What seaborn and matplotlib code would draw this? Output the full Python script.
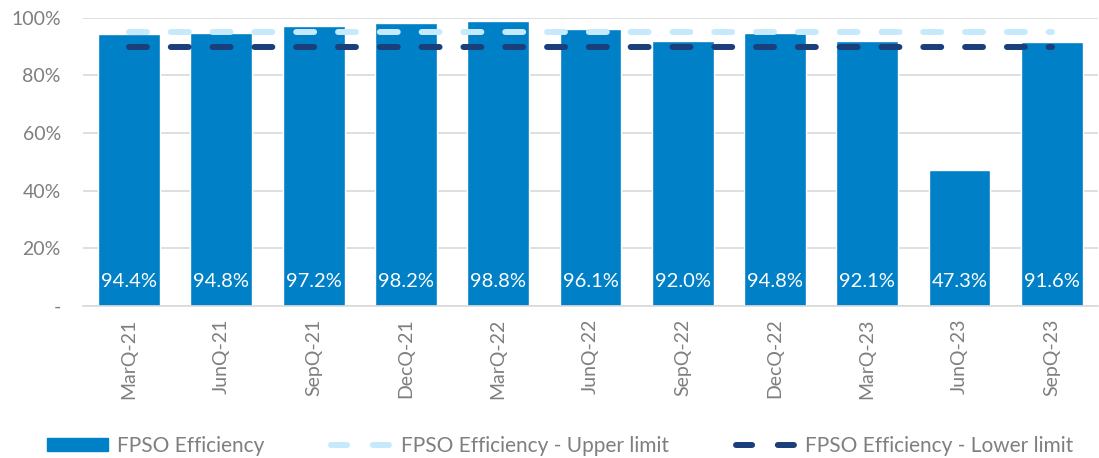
import numpy as np
import pandas as pd
import matplotlib
matplotlib.use("Agg")
import matplotlib.pyplot as plt
import seaborn as sns
from matplotlib.patches import Patch
from matplotlib.lines import Line2D

quarters = ["MarQ-21", "JunQ-21", "SepQ-21", "DecQ-21", "MarQ-22", "JunQ-22",
            "SepQ-22", "DecQ-22", "MarQ-23", "JunQ-23", "SepQ-23"]
efficiency = [94.4, 94.8, 97.2, 98.2, 98.8, 96.1, 92.0, 94.8, 92.1, 47.3, 91.6]
upper_limit = [95.0] * len(quarters)
lower_limit = [90.0] * len(quarters)
y_ticks = [0, 20, 40, 60, 80, 100]
y_tick_labels = ["-", "20%", "40%", "60%", "80%", "100%"]

BAR = "#0080C6"
UPPER = "#C6E9FC"
LOWER = "#1B3F7A"
GREY = "#7F7F7F"
GRID = "#D9D9D9"

sns.set_theme(style="white")
plt.rcParams["font.family"] = ["Lato", "DejaVu Sans"]

df = pd.DataFrame({"quarter": quarters, "eff": efficiency})

fig = plt.figure(figsize=(10.99, 4.58), dpi=100)
ax = fig.add_axes([0.0755, 0.332, 0.9235, 0.629])

sns.barplot(data=df, x="quarter", y="eff", color=BAR, width=0.67,
            saturation=1, errorbar=None, ax=ax, zorder=2)

# dashed limit lines running from the first to the last quarter
pos = np.arange(len(quarters))
for vals, col in [(upper_limit, UPPER), (lower_limit, LOWER)]:
    n_before = len(ax.lines)
    sns.lineplot(x=pos, y=vals, color=col, linewidth=4.3, ax=ax, zorder=3)
    for ln in ax.lines[n_before:]:
        ln.set_dashes((3, 4))
        ln.set_dash_capstyle("round")

# value labels at the base of each bar
for i, v in enumerate(efficiency):
    ax.annotate(f"{v:.1f}%", xy=(i, 0), xytext=(0, 17.5), textcoords="offset points",
                ha="center", va="center", color="white", fontsize=14.5, zorder=4)

ax.set_xlim(-0.5, len(quarters) - 0.5)
ax.set_ylim(0, 100)
ax.set_yticks(y_ticks)
ax.set_yticklabels(y_tick_labels)
ax.grid(axis="y", color=GRID, linewidth=1.2, zorder=0)
ax.set_axisbelow(True)
for s in ["top", "right", "left"]:
    ax.spines[s].set_visible(False)
ax.spines["bottom"].set_color(GRID)
ax.spines["bottom"].set_linewidth(1.2)
ax.tick_params(axis="y", length=0, pad=16, labelsize=14, labelcolor=GREY)
ax.tick_params(axis="x", length=0, pad=9, labelsize=14, labelcolor=GREY, rotation=90)
ax.set_xlabel("")
ax.set_ylabel("")

handles = [
    Patch(facecolor=BAR, edgecolor=BAR),
    Line2D([0], [0], color=UPPER, linewidth=4.3, dashes=(2.7, 4.3), dash_capstyle="round"),
    Line2D([0], [0], color=LOWER, linewidth=4.3, dashes=(2.7, 4.3), dash_capstyle="round"),
]
labels = ["FPSO Efficiency", "FPSO Efficiency - Upper limit", "FPSO Efficiency - Lower limit"]
fig.legend(handles, labels, loc="center", bbox_to_anchor=(0.51, 0.026), ncol=3,
           frameon=False, fontsize=15, labelcolor=GREY, handlelength=2.9,
           handleheight=0.6, handletextpad=0.45, columnspacing=3.2)

fig.savefig("out.png", dpi=100)
